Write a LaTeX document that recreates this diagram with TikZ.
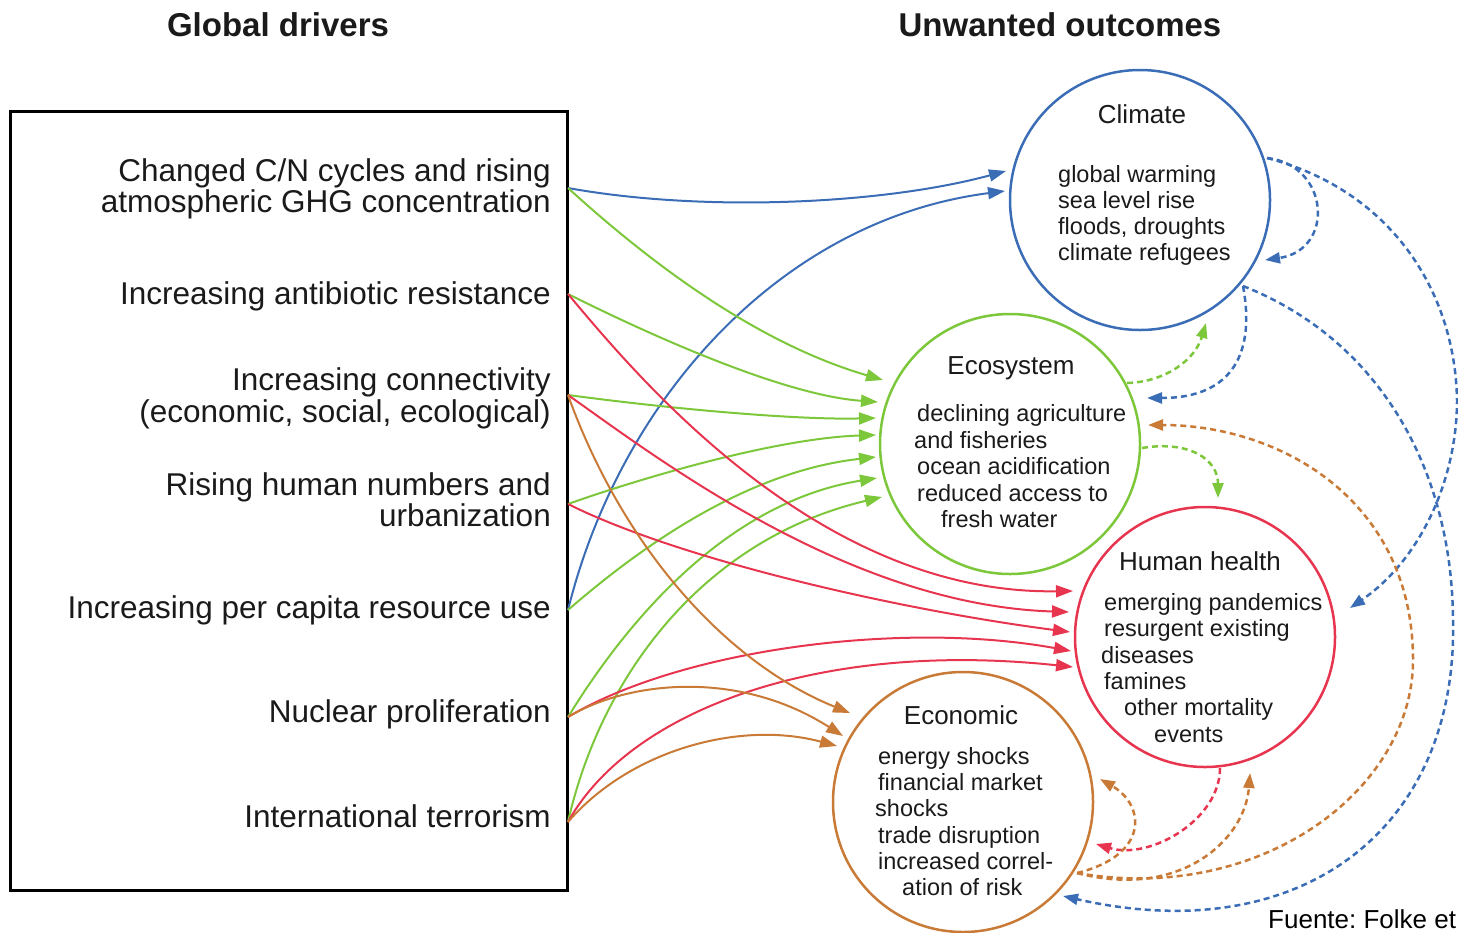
\documentclass[tikz,border=0pt]{standalone}
\usepackage{fontspec}
\setmainfont{Liberation Sans}
\usetikzlibrary{arrows.meta}
\definecolor{cblue}{HTML}{3B6DB6}
\definecolor{cgreen}{HTML}{7DC73B}
\definecolor{cred}{HTML}{E8354F}
\definecolor{corange}{HTML}{C87A36}
\definecolor{ctext}{HTML}{1A1A1A}
\begin{document}
\frenchspacing
\begin{tikzpicture}[x=1pt,y=-1pt,
  title/.style={font=\fontsize{33}{33}\selectfont\bfseries, text=ctext, anchor=base, inner sep=0pt},
  drv/.style={font=\fontsize{31.5}{31.5}\selectfont, text=ctext, anchor=base east, inner sep=0pt},
  ctitle/.style={font=\fontsize{26}{26}\selectfont, text=ctext, anchor=base, inner sep=0pt},
  cline/.style={font=\fontsize{23.5}{26}\selectfont, text=ctext, anchor=base west, inner sep=0pt},
  outcome/.style={circle, draw, line width=2.5pt, minimum size=260pt, inner sep=0pt},
  link/.style={line width=2pt, -{Triangle[length=17pt,width=12pt]}},
  fb/.style={line width=2.5pt, dash pattern=on 6pt off 4pt, -{Triangle[length=15pt,width=11pt]}},
]
\useasboundingbox (0,0) rectangle (1458,932);

% titles
\node[title] (tdrv) at (278,36) {Global drivers};
\node[title] (tout) at (1060,36) {Unwanted outcomes};

% drivers box
\node[draw=black, line width=2.5pt, minimum width=557pt, minimum height=779pt, anchor=north west, inner sep=0pt] (box) at (9,110) {};
\node[drv] (dr1a) at (551,181) {Changed C/N cycles and rising};
\node[drv] (dr1b) at (551,212) {atmospheric GHG concentration};
\node[drv] (dr2) at (551,304) {Increasing antibiotic resistance};
\node[drv] (dr3a) at (551,390) {Increasing connectivity};
\node[drv] (dr3b) at (551,422) {(economic, social, ecological)};
\node[drv] (dr4a) at (551,495) {Rising human numbers and};
\node[drv] (dr4b) at (551,526) {urbanization};
\node[drv] (dr5) at (551,618) {Increasing per capita resource use};
\node[drv] (dr6) at (551,722) {Nuclear proliferation};
\node[drv] (dr7) at (551,827) {International terrorism};

\coordinate (d1) at (568,188);
\coordinate (d2) at (568,294);
\coordinate (d3) at (568,395);
\coordinate (d4) at (568,504);
\coordinate (d5) at (568,610);
\coordinate (d6) at (568,717);
\coordinate (d7) at (568,822);

% outcome circles
\node[outcome, draw=cblue] (clim) at (1140,200) {};
\node[outcome, draw=cgreen] (eco) at (1010,444) {};
\node[outcome, draw=cred] (hh) at (1205,637) {};
\node[outcome, draw=corange] (econ) at (963,802) {};

% circle texts
\node[ctitle] (climT) at (1142,123) {Climate};
\node[cline] (cl1) at (1058,182) {global warming};
\node[cline] (cl2) at (1058,208) {sea level rise};
\node[cline] (cl3) at (1058,234) {floods, droughts};
\node[cline] (cl4) at (1058,260) {climate refugees};

\node[ctitle] (ecoT) at (1011,374) {Ecosystem};
\node[cline] (ec1) at (917,421) {declining agriculture};
\node[cline] (ec2) at (914,448) {and fisheries};
\node[cline] (ec3) at (917,474) {ocean acidification};
\node[cline] (ec4) at (917,501) {reduced access to};
\node[cline] (ec5) at (941,527) {fresh water};

\node[ctitle] (hhT) at (1200,570) {Human health};
\node[cline] (hh1) at (1104,610) {emerging pandemics};
\node[cline] (hh2) at (1104,636) {resurgent existing};
\node[cline] (hh3) at (1101,663) {diseases};
\node[cline] (hh4) at (1104,689) {famines};
\node[cline] (hh5) at (1124,715) {other mortality};
\node[cline] (hh6) at (1154,742) {events};

\node[ctitle] (econT) at (961,724) {Economic};
\node[cline] (en1) at (878,764) {energy shocks};
\node[cline] (en2) at (878,790) {financial market};
\node[cline] (en3) at (875,816) {shocks};
\node[cline] (en4) at (878,843) {trade disruption};
\node[cline] (en5) at (878,869) {increased correl-};
\node[cline] (en6) at (902,895) {ation of risk};

\node[font=\fontsize{26}{26}\selectfont, text=black, anchor=base west, inner sep=0pt] (src) at (1268,928) {Fuente: Folke et};

% arrival points
\coordinate (ci1) at (1006,171);
\coordinate (ci2) at (1005,191);
\coordinate (ei1) at (883,380);
\coordinate (ei2) at (878,402);
\coordinate (ei3) at (876,418);
\coordinate (ei4) at (876,435);
\coordinate (ei5) at (876,457);
\coordinate (ei6) at (877,478);
\coordinate (ei7) at (882,497);
\coordinate (hi1) at (1073,591);
\coordinate (hi2) at (1069,612);
\coordinate (hi3) at (1070,632);
\coordinate (hi4) at (1071,651);
\coordinate (hi5) at (1073,667);
\coordinate (ki1) at (850,713);
\coordinate (ki2) at (843,736);
\coordinate (ki3) at (837,746);

% feedback points
\coordinate (climO1) at (1267,158);
\coordinate (climO2) at (1243,286);
\coordinate (climSelf) at (1265,260);
\coordinate (climInG) at (1206,323);
\coordinate (ecoO1) at (1127,383);
\coordinate (ecoO2) at (1142,448);
\coordinate (ecoInB) at (1147,398);
\coordinate (ecoInO) at (1148,425);
\coordinate (hhO) at (1220,768);
\coordinate (hhInB) at (1350,608);
\coordinate (hhInG) at (1218,498);
\coordinate (hhInO) at (1250,773);
\coordinate (econO) at (1077,873);
\coordinate (econInR) at (1096,844);
\coordinate (econSelf) at (1100,779);
\coordinate (econInB) at (1063,896);
\coordinate (via1) at (1457,400);
\coordinate (via2) at (1453,620);
\coordinate (via3) at (1413,660);

% driver links
\draw[link,cblue] (d1) .. controls (700,212) and (880,205) .. (ci1);
\draw[link,cblue] (d5) .. controls (620,400) and (780,220) .. (ci2);
\draw[link,cgreen] (d1) .. controls (680,290) and (780,350) .. (ei1);
\draw[link,cgreen] (d2) .. controls (640,330) and (780,395) .. (ei2);
\draw[link,cgreen] (d3) .. controls (680,410) and (800,420) .. (ei3);
\draw[link,cgreen] (d4) .. controls (650,475) and (780,438) .. (ei4);
\draw[link,cgreen] (d5) .. controls (660,530) and (760,470) .. (ei5);
\draw[link,cgreen] (d6) .. controls (640,600) and (740,500) .. (ei6);
\draw[link,cgreen] (d7) .. controls (600,680) and (700,540) .. (ei7);
\draw[link,cred] (d2) .. controls (640,380) and (820,595) .. (hi1);
\draw[link,cred] (d3) .. controls (660,460) and (850,605) .. (hi2);
\draw[link,cred] (d4) .. controls (680,560) and (900,610) .. (hi3);
\draw[link,cred] (d6) .. controls (680,650) and (900,620) .. (hi4);
\draw[link,cred] (d7) .. controls (630,710) and (820,640) .. (hi5);
\draw[link,corange] (d3) .. controls (620,540) and (720,660) .. (ki1);
\draw[link,corange] (d6) .. controls (630,680) and (740,670) .. (ki2);
\draw[link,corange] (d7) .. controls (630,750) and (740,720) .. (ki3);

% feedbacks
\draw[fb,cblue] (climO1) .. controls (1330,165) and (1335,250) .. (climSelf);
\draw[fb,cblue] (climO1) .. controls (1390,190) and (1455,290) .. (via1) .. controls (1457,480) and (1420,560) .. (hhInB);
\draw[fb,cblue] (climO2) .. controls (1380,340) and (1452,470) .. (via2) .. controls (1458,830) and (1300,950) .. (econInB);
\draw[fb,cblue] (climO2) .. controls (1255,350) and (1235,398) .. (ecoInB);
\draw[fb,cgreen] (ecoO1) .. controls (1165,382) and (1195,360) .. (climInG);
\draw[fb,cgreen] (ecoO2) .. controls (1190,440) and (1218,460) .. (hhInG);
\draw[fb,cred] (hhO) .. controls (1220,820) and (1150,860) .. (econInR);
\draw[fb,corange] (econO) .. controls (1150,855) and (1145,805) .. (econSelf);
\draw[fb,corange] (econO) .. controls (1180,900) and (1245,840) .. (hhInO);
\draw[fb,corange] (econO) .. controls (1260,905) and (1413,790) .. (via3) .. controls (1413,500) and (1280,425) .. (ecoInO);
\end{tikzpicture}
\end{document}
